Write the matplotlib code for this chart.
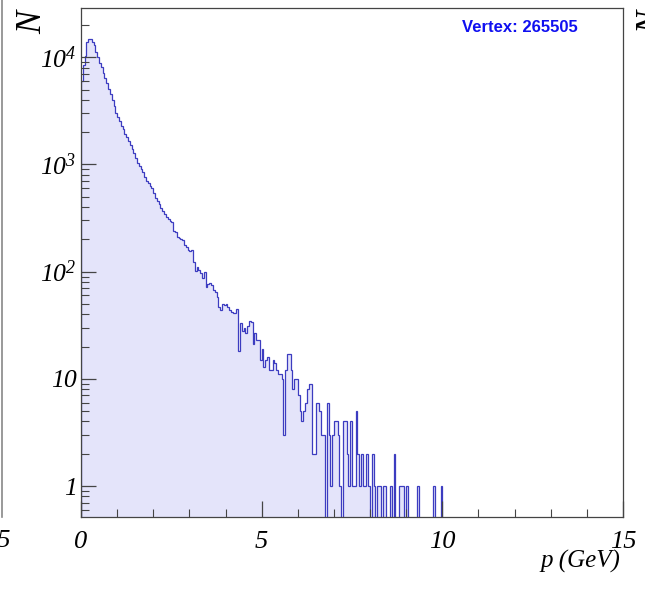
import numpy as np
import matplotlib.pyplot as plt
from matplotlib.lines import Line2D
from matplotlib.ticker import FixedLocator, LogLocator, NullFormatter, FuncFormatter

# histogram contents, 0.05 GeV bins starting at p = 0 (bins after the list are empty)
counts = [
    6000, 8500, 10200, 13900, 14800, 14700, 13900, 12900, 11300, 10000,
    8900, 8050, 7150, 6400, 5750, 5050, 4500, 4020, 3480, 3050,
    2800, 2550, 2300, 2120, 1930, 1800, 1640, 1520, 1390, 1270,
    1150, 1040, 970, 900, 850, 760, 700, 665, 630, 600,
    540, 485, 455, 430, 395, 370, 345, 325, 310, 295,
    290, 240, 235, 212, 205, 200, 196, 178, 170, 158,
    155, 160, 124, 101, 110, 104, 98, 87, 100, 72,
    76, 78, 75, 68, 64, 58, 47, 44, 50, 49,
    50, 47, 44, 42, 41, 41, 45, 18, 33, 28,
    30, 27, 31, 35, 34, 21, 27, 23, 23, 15,
    19, 13, 15, 16, 12, 12, 15, 14, 12, 11,
    11, 10, 3, 12, 17, 17, 12, 8, 10, 10,
    7, 5, 4, 5, 6, 8, 9, 9, 2, 2,
    6, 6, 5, 3, 3, 0, 6, 3, 1, 3,
    4, 4, 3, 1, 0, 4, 4, 2, 1, 4,
    1, 1, 5, 2, 1, 2, 1, 1, 2, 1,
    0, 2, 1, 0, 1, 1, 0, 1, 1, 0,
    0, 1, 0, 2, 0, 0, 1, 1, 1, 0,
    1, 0, 0, 0, 0, 0, 1, 0, 0, 0,
    0, 0, 0, 0, 0, 1, 0, 0, 0, 1,
]
n_bins = 300
p_min, p_max = 0, 15
x_major = [0, 5, 10, 15]
x_minor = [1, 2, 3, 4, 6, 7, 8, 9, 11, 12, 13, 14]
info_text = 'Vertex: 265505'

plt.rcParams['font.family'] = ['Liberation Serif', 'DejaVu Serif']
plt.rcParams['font.style'] = 'italic'
plt.rcParams['mathtext.fontset'] = 'custom'
plt.rcParams['mathtext.rm'] = 'Liberation Serif:italic'
plt.rcParams['mathtext.it'] = 'Liberation Serif:italic'

vals = np.zeros(n_bins)
vals[:len(counts)] = counts
edges = np.linspace(p_min, p_max, n_bins + 1)
floor = 1e-3
draw_vals = np.clip(vals, floor, None)

fig = plt.figure(figsize=(6.45, 5.92), dpi=100)
ax = fig.add_axes([81 / 645, 1 - 517 / 592, 542 / 645, 509 / 592])

ax.stairs(draw_vals, edges, baseline=floor, fill=True, color='#e4e4fa', lw=0)
ax.stairs(draw_vals, edges, baseline=floor, color='#3c3cc0', lw=0.9)

ax.set_yscale('log')
ax.set_xlim(p_min, p_max)
ax.set_ylim(0.514, 28800)

ax.xaxis.set_major_locator(FixedLocator(x_major))
ax.xaxis.set_minor_locator(FixedLocator(x_minor))
ax.yaxis.set_major_locator(LogLocator(base=10, numticks=10))
ax.yaxis.set_minor_locator(LogLocator(base=10, subs=np.arange(2, 10), numticks=20))
ax.yaxis.set_minor_formatter(NullFormatter())


def ylab(v, pos):
    if v == 1:
        return '1'
    if v == 10:
        return '10'
    return r'$10^{%d}$' % round(np.log10(v))


ax.yaxis.set_major_formatter(FuncFormatter(ylab))
ax.xaxis.set_major_formatter(FuncFormatter(lambda v, pos: '%d' % v))

ax.tick_params(axis='both', which='both', direction='in', colors='#444444',
               top=False, right=False)
ax.tick_params(axis='x', which='major', length=11.5, width=0.9, pad=10,
               labelsize=19, labelcolor='black')
ax.tick_params(axis='x', which='minor', length=5.8, width=0.8)
ax.tick_params(axis='y', which='major', length=10.8, width=0.9, pad=3,
               labelsize=18.5, labelcolor='black')
ax.tick_params(axis='y', which='minor', length=5.8, width=0.8)

for s in ax.spines.values():
    s.set_color('#444444')
    s.set_linewidth(0.9)

ax.text(0.81, 0.962, info_text, transform=ax.transAxes, ha='center', va='center',
        fontsize=12, fontweight='bold', color='#1010f0',
        family='Liberation Sans', style='normal')

# axis titles, ROOT style
fig.text(620 / 645, 1 - 561 / 592, 'p (GeV)', ha='right', va='center', fontsize=18)
fig.text(33 / 645, 1 - 22 / 592, 'N', ha='center', va='center', rotation=90, fontsize=25)

# pieces of the neighbouring pads
fig.add_artist(Line2D([1.5 / 645, 1.5 / 645], [1.0, 1 - 517 / 592], color='#888888', lw=1.2))
fig.text(11 / 645, 1 - 541 / 592, '15', ha='right', va='center', fontsize=19)
fig.text(653 / 645, 1 - 22 / 592, 'N', ha='center', va='center', rotation=90, fontsize=25)

fig.savefig('out.png', dpi=100)
